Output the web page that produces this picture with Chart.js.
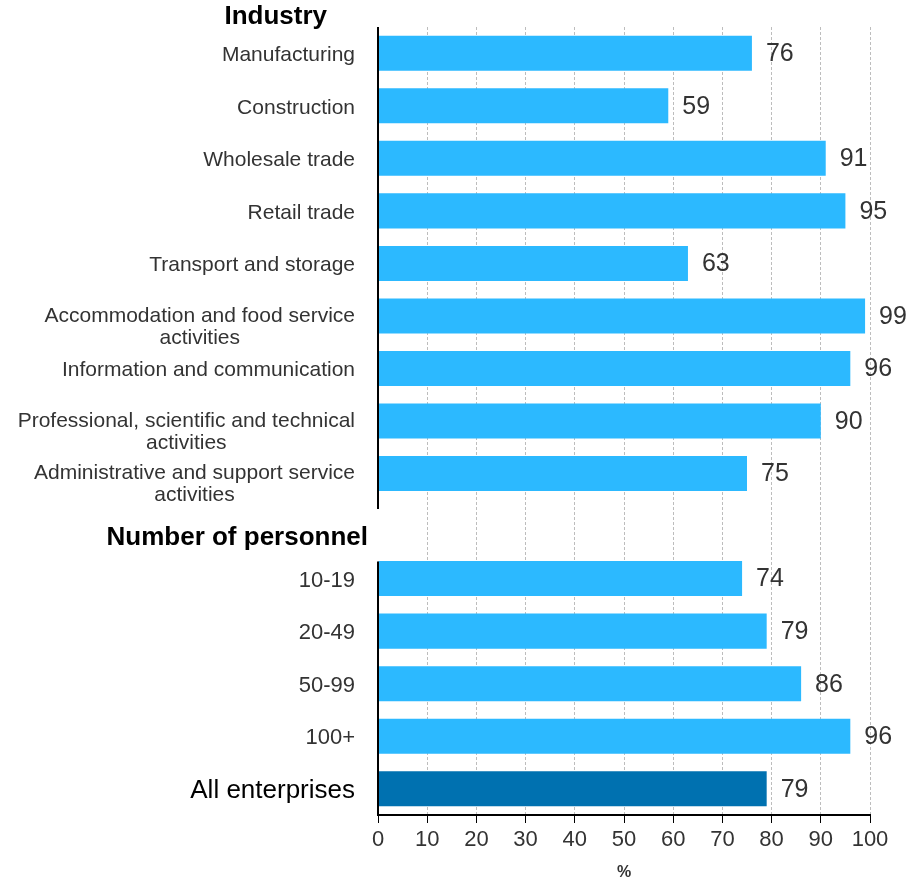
<!DOCTYPE html>
<html>
<head>
<meta charset="utf-8">
<script src="https://cdn.jsdelivr.net/npm/chart.js@4/dist/chart.umd.min.js"></script>
<style>
  html, body { margin: 0; padding: 0; background: #fff; }
  #wrap { width: 906px; height: 882px; }
</style>
</head>
<body>
<div id="wrap"><canvas id="chart" width="906" height="882"></canvas></div>
<script>
// categories (empty string = the gap row under the "Number of personnel" heading)
const categories = [
  'Manufacturing',
  'Construction',
  'Wholesale trade',
  'Retail trade',
  'Transport and storage',
  ['Accommodation and food service', 'activities'],
  'Information and communication',
  ['Professional, scientific and technical', 'activities'],
  ['Administrative and support service', 'activities'],
  '',
  '10-19',
  '20-49',
  '50-99',
  '100+',
  'All enterprises'
]
const values = [76, 59, 91, 95, 63, 99, 96, 90, 75, null, 74, 79, 86, 96, 79]
const groupHeadings = ['Industry', 'Number of personnel']
const xTicks = [0, 10, 20, 30, 40, 50, 60, 70, 80, 90, 100]
const xTitle = '%'

const GAP = 9
const FONT = '"Liberation Sans", Arial, sans-serif'
const barColors = values.map((v, i) => i === values.length - 1 ? '#0071b0' : '#2cb9ff')

// y labels + headings + broken y axis line
const labelsPlugin = {
  id: 'labels',
  afterDraw(chart) {
    const ctx = chart.ctx
    const y = chart.scales.y
    const area = chart.chartArea
    const right = area.left - 23
    ctx.save()
    ctx.textBaseline = 'middle'
    categories.forEach((lab, i) => {
      if (!lab) return
      const cy = y.getPixelForValue(i)
      const last = i === categories.length - 1
      ctx.font = (last ? '26px ' : (i > GAP ? '22px ' : '21px ')) + FONT
      ctx.fillStyle = last ? '#000' : '#333'
      if (Array.isArray(lab)) {
        const w = Math.max(...lab.map(l => ctx.measureText(l).width))
        ctx.textAlign = 'center'
        lab.forEach((l, k) => ctx.fillText(l, right - w / 2, cy + k * 22))
      } else {
        ctx.textAlign = 'right'
        ctx.fillText(lab, right, cy + 2)
      }
    })
    // group headings
    ctx.font = 'bold 26px ' + FONT
    ctx.fillStyle = '#000'
    ctx.textAlign = 'right'
    ctx.fillText(groupHeadings[0], area.left - 51, 17)
    ctx.fillText(groupHeadings[1], area.left - 10, y.getPixelForValue(GAP) + 12)
    // broken y axis line
    ctx.strokeStyle = '#000'
    ctx.lineWidth = 2
    ctx.beginPath()
    ctx.moveTo(area.left, area.top)
    ctx.lineTo(area.left, y.getPixelForValue(GAP) - 17)
    ctx.moveTo(area.left, y.getPixelForValue(GAP + 1) - 17)
    ctx.lineTo(area.left, area.bottom)
    ctx.stroke()
    // value labels
    ctx.font = '25px ' + FONT
    ctx.fillStyle = '#333'
    ctx.textAlign = 'left'
    const meta = chart.getDatasetMeta(0)
    meta.data.forEach((bar, i) => {
      if (values[i] == null) return
      ctx.fillText(String(values[i]), bar.x + 14, bar.y + 1)
    })
    ctx.restore()
  }
}

new Chart(document.getElementById('chart'), {
  type: 'bar',
  data: {
    labels: categories.map((c, i) => Array.isArray(c) ? c.join(' ') : (c || ' ' + i)),
    datasets: [{
      data: values,
      backgroundColor: barColors,
      borderWidth: 0,
      categoryPercentage: 1,
      barPercentage: 0.667
    }]
  },
  options: {
    indexAxis: 'y',
    responsive: false,
    animation: false,
    layout: { padding: { top: 27, right: 36, left: 0, bottom: 0 } },
    plugins: { legend: { display: false }, tooltip: { enabled: false } },
    scales: {
      x: {
        min: 0,
        max: 100,
        afterBuildTicks: s => { s.ticks = xTicks.map(v => ({ value: v })) },
        afterFit: s => { s.height = 67 },
        grid: {
          color: ctx => ctx.tick && ctx.tick.value === 0 ? 'rgba(0,0,0,0)' : '#bdbdbd',
          tickColor: '#000',
          tickBorderDash: [],
          tickLength: 8,
          lineWidth: 1
        },
        border: { display: true, color: '#000', width: 2, dash: [3, 2] },
        ticks: {
          color: '#333',
          font: { family: FONT, size: 22 },
          padding: 4,
          maxRotation: 0
        },
        title: {
          display: true,
          text: xTitle,
          color: '#333',
          font: { family: FONT, size: 16, weight: 'bold' },
          padding: { top: 0, bottom: 0 }
        }
      },
      y: {
        afterFit: s => { s.width = 378 },
        grid: { display: false },
        border: { display: false },
        ticks: { display: false }
      }
    }
  },
  plugins: [labelsPlugin]
})
</script>
</body>
</html>
